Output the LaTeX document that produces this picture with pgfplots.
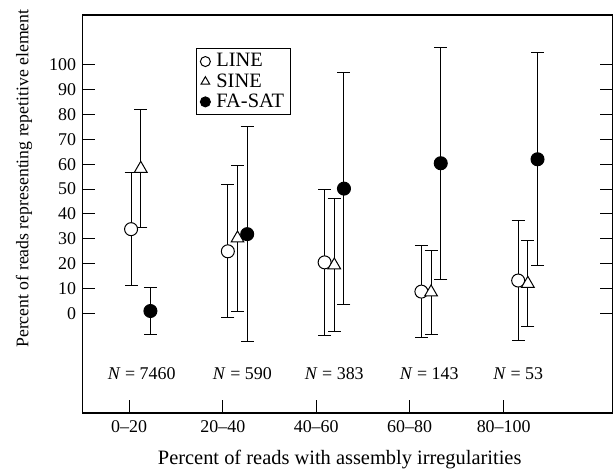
\documentclass[border=0pt]{standalone}
\usepackage{pgfplots}
\pgfplotsset{compat=1.18}
\usepackage{fontspec}
\setmainfont{Liberation Serif}

% group g: LINE at g, SINE at g+0.1, FA-SAT at g+0.2 ; err = half range of the bar
\pgfplotstableread{
x y err
0 33.9 22.7
1 25.0 26.8
2 20.55 29.25
3 8.8 18.6
4 13.25 23.95
}\lineData
\pgfplotstableread{
x y err
0.1 58.25 23.75
1.1 30.25 29.35
2.1 19.4 26.8
3.1 8.55 16.85
4.1 12.0 17.4
}\sineData
\pgfplotstableread{
x y err
0.2 1.0 9.3
1.2 31.9 43.3
2.2 50.2 46.5
3.2 60.4 46.6
4.2 62.0 42.9
}\fasatData

\begin{document}
\fontsize{18}{21}\selectfont
\begin{tikzpicture}
\begin{axis}[
    scale only axis,
    width=530.7bp, height=398bp,
    xmin=-0.504, xmax=4.98,
    ymin=-40, ymax=120,
    ytick={0,10,...,100},
    xtick={-0.021,0.948,1.913,2.878,3.850},
    xticklabels={0--20,20--40,40--60,60--80,80--100},
    xtick pos=left,
    ytick pos=both,
    yticklabel pos=left,
    tick align=inside,
    major tick length=13bp,
    tick style={black, line width=1bp},
    axis line style={line width=1.2bp},
    /pgf/number format/assume math mode=true,
    ticklabel style={font=\fontsize{18}{21}\selectfont},
    xticklabel style={yshift=-1bp},
    xlabel={Percent of reads with assembly irregularities},
    ylabel={Percent of reads representing repetitive element},
    xlabel style={at={(rel axis cs:0.485,-0.118)}, anchor=center, font=\fontsize{20.5}{24}\selectfont},
    ylabel style={at={(rel axis cs:-0.110,0.589)}, anchor=center, font=\fontsize{17.8}{21}\selectfont},
    legend style={at={(rel axis cs:0.214,0.917)}, anchor=north west,
        draw=black, line width=1bp, font=\fontsize{20.5}{24}\selectfont,
        inner xsep=4bp, inner ysep=3bp, row sep=0bp, column sep=4bp},
    legend cell align=left,
    legend image post style={mark size=5bp},
    error bars/y dir=both,
    error bars/y explicit,
    error bars/error mark options={rotate=90, mark size=6.5bp, line width=1bp, black},
    error bars/error bar style={line width=1bp, black},
]
\addplot[only marks, black, line width=1bp, mark=*, mark size=6.5bp, mark options={fill=white}]
    table[x=x, y=y, y error=err] {\lineData};
\addlegendentry{LINE}
\addplot[only marks, black, line width=1bp, mark=triangle*, mark size=7.3bp, mark options={fill=white}]
    table[x=x, y=y, y error=err] {\sineData};
\addlegendentry{SINE}
\addplot[only marks, black, line width=1bp, mark=*, mark size=6.5bp, mark options={fill=black}]
    table[x=x, y=y, y error=err] {\fasatData};
\addlegendentry{FA-SAT}

\pgfplotsinvokeforeach{0,...,4}{
    \draw[line width=1bp] (axis cs:#1,120) -- ++(0,-13bp);
}
\node at (axis cs:0.11,-24.1) {\textit{N} = 7460};
\node at (axis cs:1.15,-24.1) {\textit{N} = 590};
\node at (axis cs:2.10,-24.1) {\textit{N} = 383};
\node at (axis cs:3.08,-24.1) {\textit{N} = 143};
\node at (axis cs:4.00,-24.1) {\textit{N} = 53};
\end{axis}
\pgfresetboundingbox
\useasboundingbox ([xshift=-82.3bp,yshift=-56bp]current axis.south west) rectangle ([yshift=15bp]current axis.north east);
\end{tikzpicture}
\end{document}
